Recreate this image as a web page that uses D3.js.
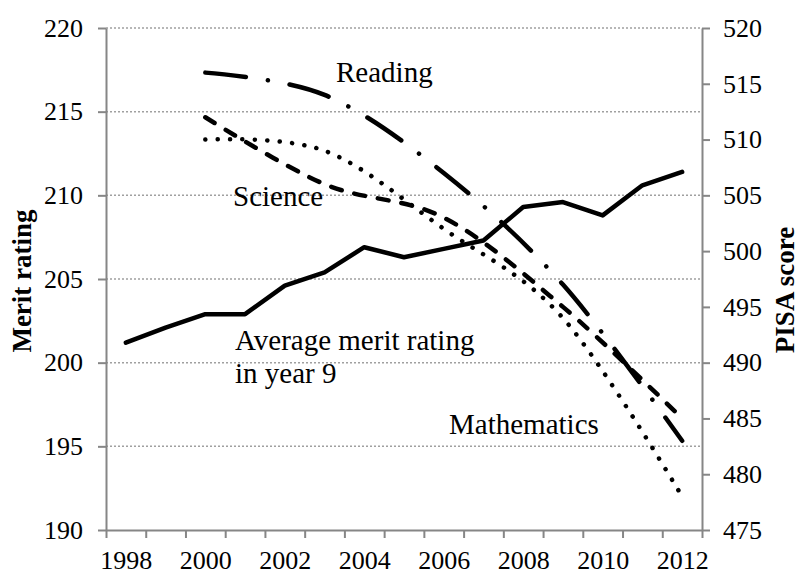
<!DOCTYPE html>
<html>
<head>
<meta charset="utf-8">
<script src="https://cdn.jsdelivr.net/npm/d3@7.9.0/dist/d3.min.js"></script>
</head>
<body style="margin:0">
<svg id="chart" width="800" height="574"></svg>
<script>
const years = [1998, 1999, 2000, 2001, 2002, 2003, 2004, 2005, 2006, 2007, 2008, 2009, 2010, 2011, 2012];
const merit = [201.2, 202.1, 202.9, 202.9, 204.6, 205.4, 206.9, 206.3, 206.8, 207.3, 209.3, 209.6, 208.8, 210.6, 211.4];

const pisaYears = [2000, 2003, 2006, 2009, 2012];
const reading = [516, 514, 507, 497, 483];
const science = [512, 506, 503, 495, 485];
const maths = [510, 509, 502, 494, 478];

const xLabels = [1998, 2000, 2002, 2004, 2006, 2008, 2010, 2012];
const leftTicks = [190, 195, 200, 205, 210, 215, 220];
const rightTicks = [475, 480, 485, 490, 495, 500, 505, 510, 515, 520];

const margin = { top: 28, right: 98, bottom: 44, left: 106 };
const W = 800, H = 574;
const axisColor = "#868686";
const serif = "Liberation Serif";

const svg = d3.select("#chart");

// categories sit in the middle of each year slot
const x = d3.scaleLinear()
    .domain([years[0] - 0.5, years[years.length - 1] + 0.5])
    .range([margin.left, W - margin.right]);

const yL = d3.scaleLinear().domain([190, 220]).range([H - margin.bottom, margin.top]);
const yR = d3.scaleLinear().domain([475, 520]).range([H - margin.bottom, margin.top]);

// gridlines
svg.append("g")
    .selectAll("line")
    .data(leftTicks.slice(1))
    .enter()
    .append("line")
    .attr("x1", margin.left)
    .attr("x2", W - margin.right)
    .attr("y1", d => yL(d))
    .attr("y2", d => yL(d))
    .attr("stroke", "#a0a0a0")
    .attr("stroke-width", 1.5)
    .attr("stroke-dasharray", "2,2");

function styleAxis(g) {
    g.select(".domain").attr("stroke", axisColor).attr("stroke-width", 2);
    g.selectAll(".tick line").attr("stroke", axisColor).attr("stroke-width", 2);
    g.selectAll("text").attr("fill", "#000").attr("font-size", 26);
}

// x axis: tick marks between categories, labels every second year
const bounds = d3.range(years[0] - 0.5, years[years.length - 1] + 1, 1);
svg.append("g")
    .attr("transform", `translate(0, ${H - margin.bottom})`)
    .call(d3.axisBottom(x).tickValues(bounds).tickFormat("").tickSize(8).tickSizeOuter(0))
    .call(styleAxis);

svg.append("g")
    .attr("transform", `translate(0, ${H - margin.bottom})`)
    .call(d3.axisBottom(x).tickValues(xLabels).tickFormat(d3.format("d")).tickSize(0).tickPadding(21))
    .call(g => g.select(".domain").remove())
    .call(styleAxis);

svg.append("g")
    .attr("transform", `translate(${margin.left}, 0)`)
    .call(d3.axisLeft(yL).tickValues(leftTicks).tickSize(8).tickSizeOuter(0).tickPadding(15))
    .call(styleAxis);

svg.append("g")
    .attr("transform", `translate(${W - margin.right}, 0)`)
    .call(d3.axisRight(yR).tickValues(rightTicks).tickSize(8).tickSizeOuter(0).tickPadding(13))
    .call(styleAxis);

// axis titles
svg.append("text")
    .attr("transform", `translate(31, ${(margin.top + H - margin.bottom) / 2 + 2}) rotate(-90)`)
    .attr("text-anchor", "middle")
    .attr("font-size", 27)
    .attr("font-weight", "bold")
    .text("Merit rating");

svg.append("text")
    .attr("transform", `translate(794, 290) rotate(-90)`)
    .attr("text-anchor", "middle")
    .attr("font-size", 27)
    .attr("font-weight", "bold")
    .text("PISA score");

// lines
const meritLine = d3.line()
    .x((d, i) => x(years[i]))
    .y(d => yL(d));

const pisaLine = d3.line()
    .x((d, i) => x(pisaYears[i]))
    .y(d => yR(d))
    .curve(d3.curveCardinal.tension(0));

svg.append("path")
    .datum(merit)
    .attr("d", meritLine)
    .attr("fill", "none")
    .attr("stroke", "#000")
    .attr("stroke-width", 4.5)
    .attr("stroke-linejoin", "round")
    .attr("stroke-linecap", "round");

const pisaSeries = [
    { values: reading, dash: "41,22,0.1,22" },
    { values: science, dash: "11,13" },
    { values: maths, dash: "0.1,12.3" }
];

svg.selectAll(".pisa")
    .data(pisaSeries)
    .enter()
    .append("path")
    .attr("class", "pisa")
    .attr("d", d => pisaLine(d.values))
    .attr("fill", "none")
    .attr("stroke", "#000")
    .attr("stroke-width", 4.5)
    .attr("stroke-linecap", "round")
    .attr("stroke-dasharray", d => d.dash);

// annotations
const notes = [
    { text: "Reading", x: 336, y: 82 },
    { text: "Science", x: 233, y: 206 },
    { text: "Average merit rating", x: 235, y: 350 },
    { text: "in year 9", x: 235, y: 383 },
    { text: "Mathematics", x: 449, y: 434 }
];

svg.selectAll(".note")
    .data(notes)
    .enter()
    .append("text")
    .attr("class", "note")
    .attr("x", d => d.x)
    .attr("y", d => d.y)
    .attr("font-size", 29)
    .attr("fill", "#000")
    .text(d => d.text);

// every label in Times-like serif
svg.selectAll("text").attr("font-family", serif);
svg.selectAll("g").attr("font-family", serif);
</script>
</body>
</html>
